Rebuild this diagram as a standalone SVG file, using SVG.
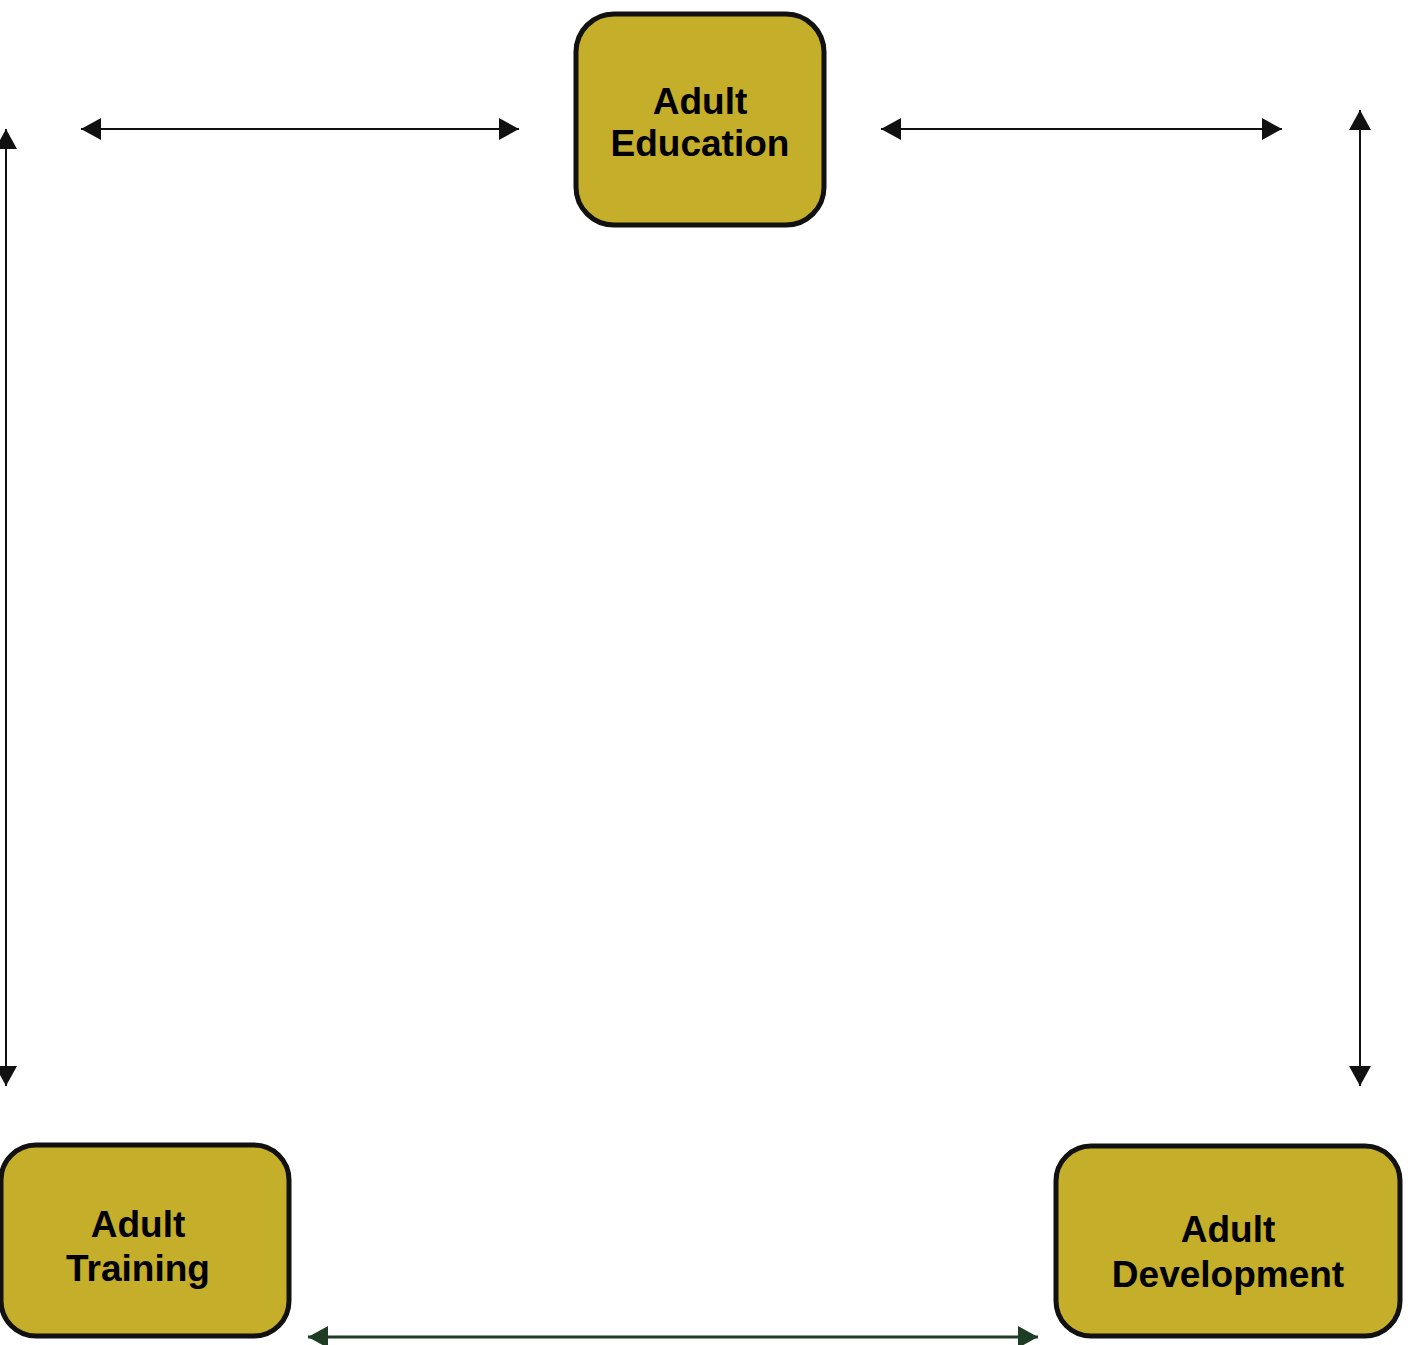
<svg xmlns="http://www.w3.org/2000/svg" width="1412" height="1345" viewBox="0 0 1412 1345">
<style>
.node rect{fill:#C4AE2A;stroke:#111;stroke-width:5}
.node text{font-family:"Liberation Sans",Arial,sans-serif;font-weight:bold;font-size:37px;fill:#000;text-anchor:middle}
.conn line{stroke:#111;stroke-width:2}
</style>
<defs>
<marker id="ah" viewBox="0 0 20 22" refX="20" refY="11" markerWidth="20" markerHeight="22" markerUnits="userSpaceOnUse" orient="auto-start-reverse"><path d="M0,0L20,11L0,22Z" fill="#111"/></marker>
<marker id="ahg" viewBox="0 0 20 22" refX="20" refY="11" markerWidth="20" markerHeight="22" markerUnits="userSpaceOnUse" orient="auto-start-reverse"><path d="M0,0L20,11L0,22Z" fill="#1E3D24"/></marker>
</defs>
<rect width="1412" height="1345" fill="#fff"/>
<g id="connectors" class="conn">
<line x1="81" y1="129" x2="519" y2="129" marker-start="url(#ah)" marker-end="url(#ah)"/>
<line x1="881" y1="129" x2="1282" y2="129" marker-start="url(#ah)" marker-end="url(#ah)"/>
<line x1="6" y1="129" x2="6" y2="1086" marker-start="url(#ah)" marker-end="url(#ah)"/>
<line x1="1360" y1="110" x2="1360" y2="1086" marker-start="url(#ah)" marker-end="url(#ah)"/>
<line x1="308" y1="1337" x2="1038" y2="1337" style="stroke:#1E3D24;stroke-width:3" marker-start="url(#ahg)" marker-end="url(#ahg)"/>
</g>
<g id="node-education" class="node">
<rect x="576" y="14" width="248" height="211" rx="38"/>
<text x="700" y="114">Adult</text>
<text x="700" y="156">Education</text>
</g>
<g id="node-training" class="node">
<rect x="1" y="1145" width="288" height="191" rx="35"/>
<text x="138" y="1237">Adult</text>
<text x="138" y="1281">Training</text>
</g>
<g id="node-development" class="node">
<rect x="1056" y="1146" width="344" height="190" rx="35"/>
<text x="1228" y="1242">Adult</text>
<text x="1228" y="1287">Development</text>
</g>
</svg>
